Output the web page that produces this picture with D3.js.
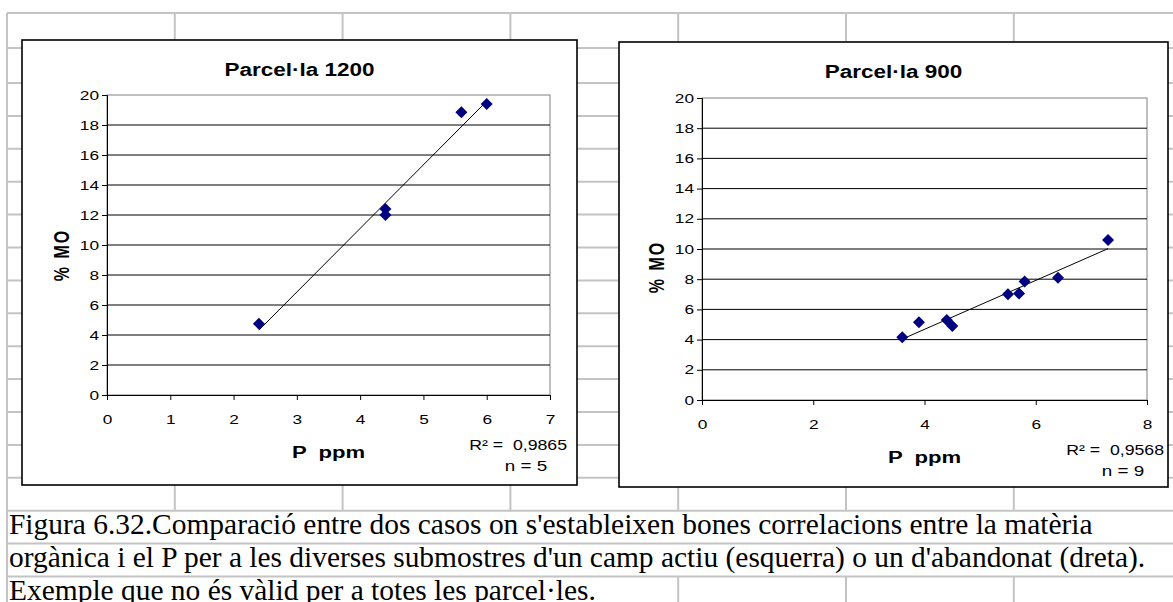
<!DOCTYPE html>
<html>
<head>
<meta charset="utf-8">
<script src="https://cdn.jsdelivr.net/npm/d3@7"></script>
<style>
  body { margin: 0; background: #fff; }
  svg { display: block; }
</style>
</head>
<body>
<svg id="fig" width="1173" height="602"></svg>
<script>
// values
const titles = ["Parcel·la 1200", "Parcel·la 900"]
const xLeft  = [2.4, 4.4, 4.4, 5.6, 6.0]
const yLeft  = [4.75, 12.4, 12.0, 18.85, 19.4]
const xRight = [3.6, 3.9, 4.4, 4.5, 5.5, 5.7, 5.8, 6.4, 7.3]
const yRight = [4.15, 5.15, 5.3, 4.9, 7.0, 7.05, 7.85, 8.1, 10.6]
const yTicks = [0, 2, 4, 6, 8, 10, 12, 14, 16, 18, 20]
const xTicksLeft  = [0, 1, 2, 3, 4, 5, 6, 7]
const xTicksRight = [0, 2, 4, 6, 8]
const r2Labels = ["0,9865", "0,9568"]
const nLabels  = [5, 9]
const yLabel = "% MO"
const xLabel = "P  ppm"
const caption = [
  "Figura 6.32.Comparació entre dos casos on s'estableixen bones correlacions entre la matèria",
  "orgànica i el P per a les diverses submostres d'un camp actiu (esquerra) o un d'abandonat (dreta).",
  "Exemple que no és vàlid per a totes les parcel·les."
]

const svg = d3.select("#fig")
const W = 1173, H = 602
const sans = "'Liberation Sans', Arial, sans-serif"
const serif = "'Liberation Serif', 'Times New Roman', serif"
const K = 1.38   // the charts were pasted stretched sideways

// spreadsheet cells behind the charts
const colX = d3.range(7, W, 167.8)
const rowY = [13, 48].concat(d3.range(16).map(i => 83 + i * 32.9))
const capTop = rowY[15]

const grid = svg.append("g").attr("stroke", "#c4c4c4").attr("stroke-width", 2)

// caption first so we know where line 3 ends
const cap = svg.append("g").attr("font-family", serif).attr("fill", "#000")
const probe = cap.append("text").attr("font-size", 25).text(caption[1])
const capSize = 25 * 1137 / probe.node().getComputedTextLength()
probe.remove()
const capLines = cap.selectAll("text").data(caption).join("text")
  .attr("x", 9)
  .attr("y", (d, i) => rowY[15 + i] + 23)
  .attr("font-size", capSize)
  .text(d => d)
const line3End = 9 + capLines.filter((d, i) => i === 2).node().getComputedTextLength()

grid.selectAll("line.h").data(rowY).join("line")
  .attr("class", "h")
  .attr("x1", 7).attr("x2", W)
  .attr("y1", d => d).attr("y2", d => d)
grid.append("line").attr("x1", 7).attr("x2", 7).attr("y1", 13).attr("y2", H)
grid.selectAll("line.v").data(colX.slice(1)).join("line")
  .attr("class", "v")
  .attr("x1", d => d).attr("x2", d => d)
  .attr("y1", 13).attr("y2", capTop)
grid.selectAll("line.v3").data(colX.slice(1).filter(d => d > line3End + 10)).join("line")
  .attr("class", "v3")
  .attr("x1", d => d).attr("x2", d => d)
  .attr("y1", rowY[17]).attr("y2", H)
cap.raise()

const layout = [
  { box: [22, 40, 577, 485], plot: [107, 95, 550, 395], yLab: 255 },
  { box: [619, 42, 1168, 487], plot: [702, 98, 1147, 400], yLab: 267 }
]

function stretch(sel, k) {
  sel.each(function () {
    const len = this.getComputedTextLength()
    d3.select(this).attr("textLength", len * k).attr("lengthAdjust", "spacingAndGlyphs")
  })
}

function fit(xs, ys) {
  const mx = d3.mean(xs), my = d3.mean(ys)
  const sxy = d3.sum(xs, (v, k) => (v - mx) * (ys[k] - my))
  const sxx = d3.sum(xs, v => (v - mx) * (v - mx))
  const b = sxy / sxx
  return v => my + b * (v - mx)
}

function render(i, xs, ys, xTicks) {
  const L = layout[i]
  const g = svg.append("g").attr("font-family", sans)

  g.append("rect")
    .attr("x", L.box[0]).attr("y", L.box[1])
    .attr("width", L.box[2] - L.box[0]).attr("height", L.box[3] - L.box[1])
    .attr("fill", "#fff").attr("stroke", "#000").attr("stroke-width", 1.6)

  const x = d3.scaleLinear().domain([0, d3.max(xTicks)]).range([L.plot[0], L.plot[2]])
  const y = d3.scaleLinear().domain([0, 20]).range([L.plot[3], L.plot[1]])

  // plot frame, grey
  g.append("rect")
    .attr("x", x(0)).attr("y", y(20))
    .attr("width", x.range()[1] - x(0)).attr("height", y(0) - y(20))
    .attr("fill", "none").attr("stroke", "#808080").attr("stroke-width", 1)

  g.selectAll("line.grid").data(yTicks.filter(t => t > 0 && t < 20)).join("line")
    .attr("class", "grid")
    .attr("x1", x(0)).attr("x2", x.range()[1])
    .attr("y1", d => y(d)).attr("y2", d => y(d))
    .attr("stroke", "#000").attr("stroke-width", 1)

  const yAxisG = g.append("g").attr("transform", `translate(${x(0)},0)`)
    .call(d3.axisLeft(y).tickValues(yTicks).tickFormat(d3.format("d")).tickSize(5).tickPadding(3))
  const xAxisG = g.append("g").attr("transform", `translate(0,${y(0)})`)
    .call(d3.axisBottom(x).tickValues(xTicks).tickFormat(d3.format("d")).tickSize(5).tickPadding(15))
  for (const a of [yAxisG, xAxisG]) {
    a.attr("font-family", sans).attr("font-size", 12.5)
    a.selectAll("path, line").attr("stroke", "#000")
    a.selectAll("text").attr("fill", "#000").call(stretch, K)
  }

  // trend line over the data range
  const f = fit(xs, ys)
  const [x0, x1] = d3.extent(xs)
  g.append("line")
    .attr("x1", x(x0)).attr("y1", y(f(x0)))
    .attr("x2", x(x1)).attr("y2", y(f(x1)))
    .attr("stroke", "#000").attr("stroke-width", 1)

  g.selectAll("path.pt").data(xs).join("path")
    .attr("class", "pt")
    .attr("d", d3.symbol(d3.symbolSquare, 72))
    .attr("transform", (d, k) => `translate(${x(d)},${y(ys[k])}) rotate(45)`)
    .attr("fill", "#000080")

  const cx = (L.box[0] + L.box[2]) / 2
  g.append("text")
    .attr("x", cx).attr("y", L.box[1] + 36)
    .attr("text-anchor", "middle")
    .attr("font-size", 18).attr("font-weight", "bold")
    .text(titles[i])
    .call(stretch, 1.25)

  g.append("text")
    .attr("transform", `translate(${x(0) - 46},${L.yLab}) rotate(-90) scale(1,${K})`)
    .attr("text-anchor", "middle").attr("dy", "0.35em")
    .attr("font-size", 16).attr("font-weight", "bold")
    .attr("letter-spacing", 2)
    .text(yLabel)

  const midX = (x(0) + x.range()[1]) / 2
  g.append("text")
    .attr("x", midX).attr("y", y(0) + 63)
    .attr("text-anchor", "middle")
    .attr("font-size", 16).attr("font-weight", "bold")
    .attr("xml:space", "preserve")
    .text(xLabel)
    .call(stretch, K)

  g.append("text")
    .attr("x", x.range()[1] + 17).attr("y", y(0) + 55)
    .attr("text-anchor", "end")
    .attr("font-size", 14.5)
    .attr("xml:space", "preserve")
    .text(`R² =  ${r2Labels[i]}`)
    .call(stretch, 1.22)

  g.append("text")
    .attr("x", x.range()[1] - 24).attr("y", y(0) + 76)
    .attr("text-anchor", "middle")
    .attr("font-size", 14.5)
    .attr("xml:space", "preserve")
    .text(`n = ${nLabels[i]}`)
    .call(stretch, 1.3)
}

render(0, xLeft, yLeft, xTicksLeft)
render(1, xRight, yRight, xTicksRight)
</script>
</body>
</html>
